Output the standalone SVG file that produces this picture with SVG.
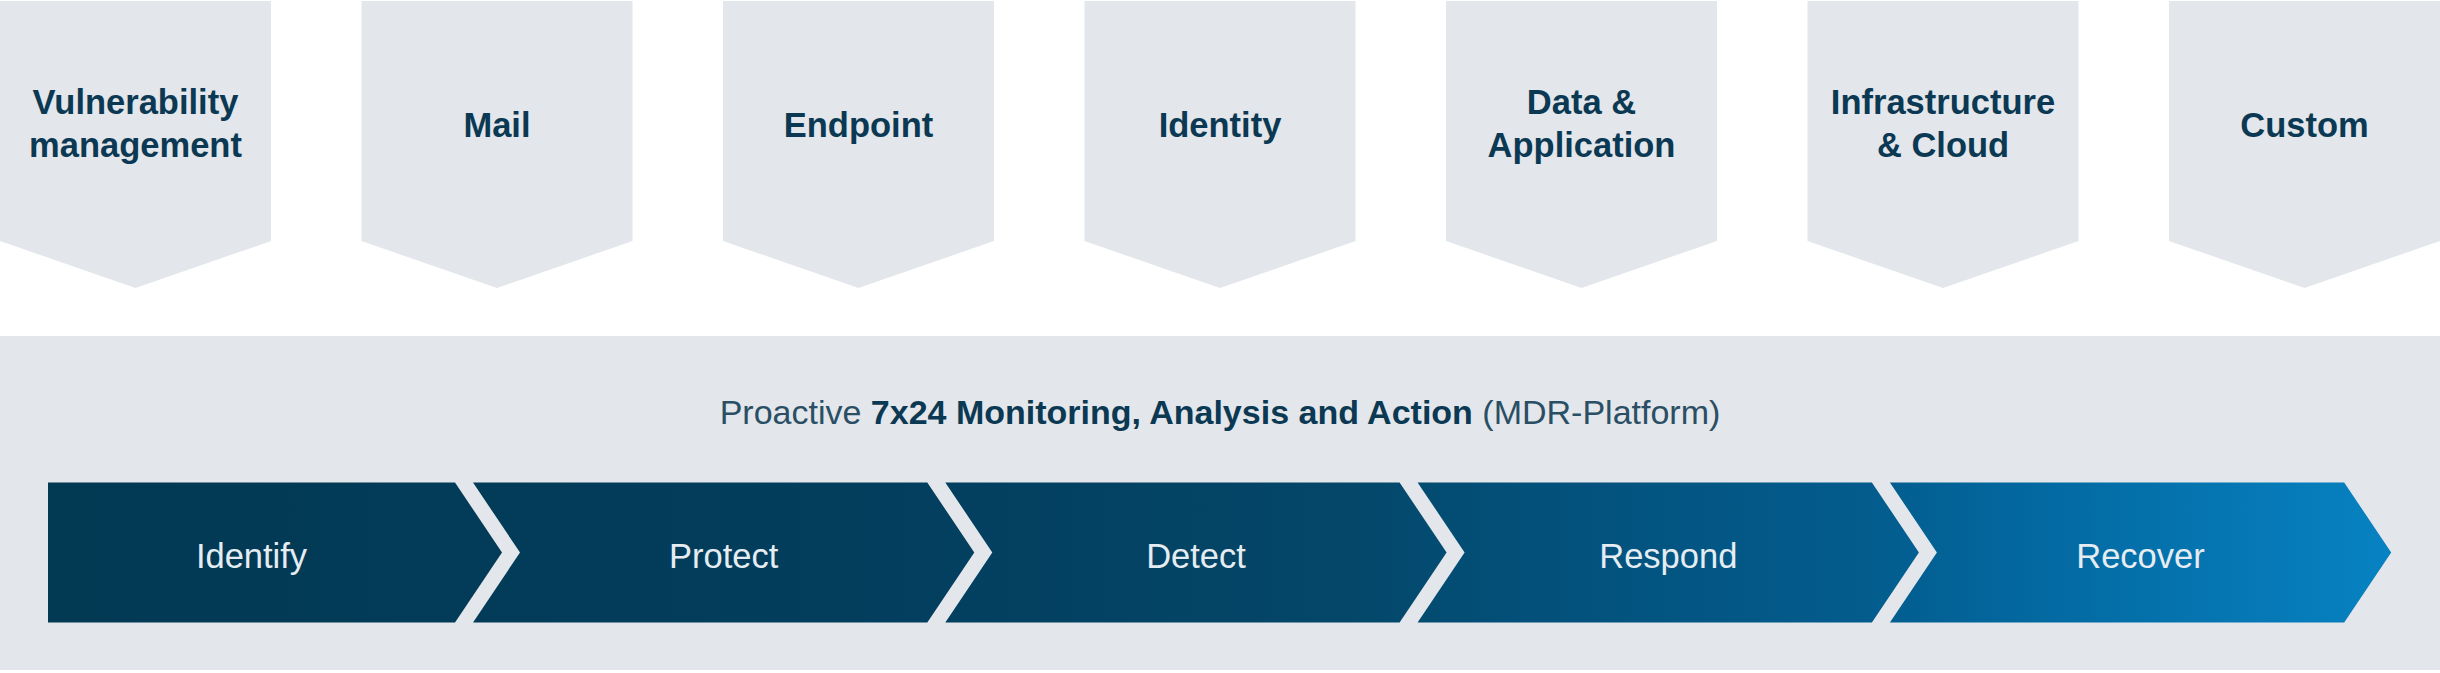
<svg xmlns="http://www.w3.org/2000/svg" width="2440" height="673" viewBox="0 0 2440 673">
  <defs>
    <linearGradient id="bar" gradientUnits="userSpaceOnUse" x1="48" y1="0" x2="2392" y2="0">
      <stop offset="0" stop-color="#023953"/>
      <stop offset="0.363" stop-color="#033e5e"/>
      <stop offset="0.555" stop-color="#044769"/>
      <stop offset="0.619" stop-color="#034f78"/>
      <stop offset="0.777" stop-color="#035c8d"/>
      <stop offset="0.833" stop-color="#03669d"/>
      <stop offset="1" stop-color="#0782c2"/>
    </linearGradient>
    <style>
      .tile { fill: #e3e6ea; }
      .tl { font-family: "Liberation Sans", Arial, sans-serif; font-weight: bold; font-size: 34.5px; fill: #0b3953; text-anchor: middle; }
      .step { fill: url(#bar); }
      .sl { font-family: "Liberation Sans", Arial, sans-serif; font-size: 34.5px; fill: #e6edf2; text-anchor: middle; }
      .title { font-family: "Liberation Sans", Arial, sans-serif; font-size: 34px; fill: #2a4f64; text-anchor: middle; }
      .title .b { font-weight: bold; fill: #0b3953; }
    </style>
  </defs>
  <rect x="0" y="0" width="2440" height="673" fill="#ffffff"/>

  <g id="vulnerability-management">
    <path class="tile" d="M0,1 L271,1 L271,241 L135.5,288 L0,241 Z"/>
    <text class="tl" x="135.5" y="114">Vulnerability</text>
    <text class="tl" x="135.5" y="157">management</text>
  </g>
  <g id="mail">
    <path class="tile" d="M361.5,1 L632.5,1 L632.5,241 L497,288 L361.5,241 Z"/>
    <text class="tl" x="497" y="137">Mail</text>
  </g>
  <g id="endpoint">
    <path class="tile" d="M723,1 L994,1 L994,241 L858.5,288 L723,241 Z"/>
    <text class="tl" x="858.5" y="137">Endpoint</text>
  </g>
  <g id="identity">
    <path class="tile" d="M1084.5,1 L1355.5,1 L1355.5,241 L1220,288 L1084.5,241 Z"/>
    <text class="tl" x="1220" y="137">Identity</text>
  </g>
  <g id="data-application">
    <path class="tile" d="M1446,1 L1717,1 L1717,241 L1581.5,288 L1446,241 Z"/>
    <text class="tl" x="1581.5" y="114">Data &amp;</text>
    <text class="tl" x="1581.5" y="157">Application</text>
  </g>
  <g id="infrastructure-cloud">
    <path class="tile" d="M1807.5,1 L2078.5,1 L2078.5,241 L1943,288 L1807.5,241 Z"/>
    <text class="tl" x="1943" y="114">Infrastructure</text>
    <text class="tl" x="1943" y="157">&amp; Cloud</text>
  </g>
  <g id="custom">
    <path class="tile" d="M2169,1 L2440,1 L2440,241 L2304.5,288 L2169,241 Z"/>
    <text class="tl" x="2304.5" y="137">Custom</text>
  </g>

  <g id="mdr-platform">
    <rect class="tile" x="0" y="336" width="2440" height="334"/>
    <text class="title" x="1220" y="424">Proactive <tspan class="b">7x24 Monitoring, Analysis and Action</tspan> (MDR-Platform)</text>
  </g>

  <g id="identify">
    <path class="step" d="M48,482.5 L455,482.5 L502,552.5 L455,622.5 L48,622.5 Z"/>
    <text class="sl" x="251.5" y="568">Identify</text>
  </g>
  <g id="protect">
    <path class="step" d="M473,482.5 L927.3,482.5 L974.3,552.5 L927.3,622.5 L473,622.5 L520,552.5 Z"/>
    <text class="sl" x="723.7" y="568">Protect</text>
  </g>
  <g id="detect">
    <path class="step" d="M945.3,482.5 L1399.6,482.5 L1446.6,552.5 L1399.6,622.5 L945.3,622.5 L992.3,552.5 Z"/>
    <text class="sl" x="1196" y="568">Detect</text>
  </g>
  <g id="respond">
    <path class="step" d="M1417.6,482.5 L1871.9,482.5 L1918.9,552.5 L1871.9,622.5 L1417.6,622.5 L1464.6,552.5 Z"/>
    <text class="sl" x="1668.3" y="568">Respond</text>
  </g>
  <g id="recover">
    <path class="step" d="M1889.9,482.5 L2344.2,482.5 L2391.2,552.5 L2344.2,622.5 L1889.9,622.5 L1936.9,552.5 Z"/>
    <text class="sl" x="2140.5" y="568">Recover</text>
  </g>

  <g id="connectors"></g>
</svg>
